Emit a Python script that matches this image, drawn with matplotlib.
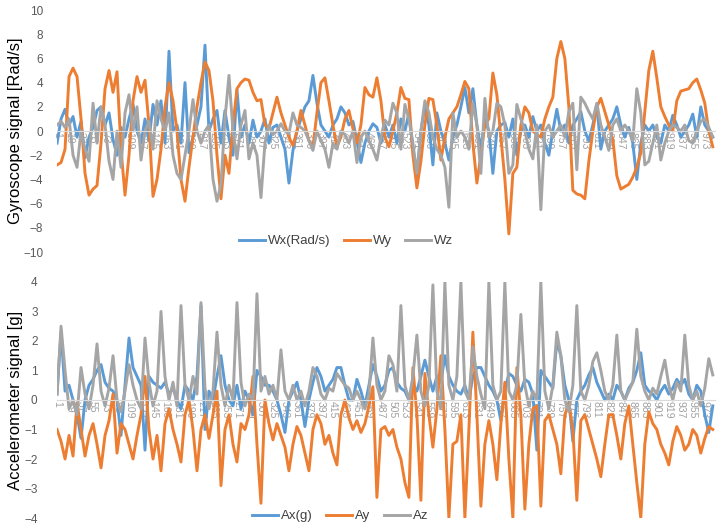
import numpy as np
import matplotlib
matplotlib.use("Agg")
import matplotlib.pyplot as plt

plt.rcParams['font.family'] = ['Liberation Sans', 'DejaVu Sans']

# gyroscope signals, one value every 6 samples
wx = [-1.0, 1.0, 1.8, 0.5, 1.2, -0.5, 0.8, -2.2, -0.5, 0.3,
      1.7, 2.0, 0.5, 1.5, -0.7, -2.0, 0.3, -0.5, 1.0, 2.2,
      0.0, -1.0, 1.0, -0.8, 2.2, 0.5, 2.5, -1.0, 6.6, 0.0,
      0.5, -1.0, 4.0, -1.8, -0.5, 0.5, 2.0, 7.1, 0.0, 1.0,
      1.7, -1.0, 1.7, -0.5, -2.0, 3.4, -0.5, 0.5, -1.0, 0.9,
      -0.5, 0.0, 1.0, -1.0, 0.3, 0.5, -0.5, -1.5, -4.3, -1.6,
      0.0, 1.0, 2.0, 2.5, 4.6, 2.3, 0.5, 0.0, -0.5, 0.5,
      1.0, 2.0, 1.5, 0.5, 0.8, -0.8, -2.6, -1.0, 0.0, 0.6,
      0.3, -1.0, 0.5, -0.5, 0.5, -1.0, 1.0, 0.0, 1.5, -1.5,
      -3.8, 0.0, 2.0, 0.5, -2.8, 1.5, 0.0, -1.0, -2.4, -0.5,
      0.5, 2.0, 3.6, 1.5, 3.5, 0.5, -1.5, 1.0, 0.0, -3.5,
      0.0, 0.5, 0.7, -0.5, 1.0, -2.0, 0.0, 0.5, -0.5, 1.2,
      0.0, 0.5, -1.0, -2.0, 0.0, 1.8, 0.0, 0.5, -1.0, 0.5,
      1.0, 1.6, 0.0, -0.8, 0.5, 2.2, -1.5, 0.0, 0.5, 1.0,
      2.0, 0.5, -0.5, 0.3, -1.0, -4.0, -1.0, 0.5, 0.0, 0.5,
      -0.5, -1.0, 0.5, 0.0, 1.3, 0.5, -0.5, 0.0, 0.5, 1.4,
      -0.5, 2.0, 0.5, 0.0, -0.5]
wy = [-2.8, -2.6, -1.5, 4.5, 5.2, 4.5, 1.0, -3.5, -5.3, -4.8,
      -4.5, -1.0, 3.5, 5.0, 3.2, 4.9, -1.5, -5.3, -2.0, 2.5,
      4.5, 3.2, 4.2, 0.5, -5.4, -4.0, -1.5, 2.0, 4.0, 2.5,
      0.0, -4.0, -5.8, -3.0, -0.5, 2.0, 4.0, 5.7, 5.0, 2.5,
      -2.0, -5.6, -2.0, -3.5, 0.5, 3.5, 4.0, 4.3, 4.2, 3.2,
      2.5, 2.6, 0.5, 0.2, 1.5, 2.8, 1.5, 0.5, -0.5, -1.2,
      0.0, 1.7, 0.5, -0.8, -1.3, 1.5, 4.0, 4.4, 2.5, 0.5,
      -1.3, -0.5, 1.0, 1.7, 0.2, -1.0, 0.5, 3.6, 3.0, 2.8,
      4.4, 2.5, -0.5, -1.3, 0.0, 1.5, 3.6, 2.7, 2.6, -2.0,
      -4.7, -2.5, 0.5, 2.7, 2.6, 0.5, -2.4, -0.5, 1.0, 1.5,
      2.0, 3.0, 4.1, 3.5, -1.0, -4.3, -2.0, 0.5, 1.0, 4.8,
      3.0, -0.5, -4.0, -8.5, -3.5, -3.0, 0.5, 2.0, 1.5, 0.0,
      -0.3, -0.5, 1.0, 2.0, 2.8, 6.0, 7.4, 6.0, 2.0, -4.9,
      -5.2, -5.3, -5.6, -2.5, 0.0, 2.0, 2.7, 1.6, 0.5, -0.7,
      -3.7, -4.8, -4.6, -4.4, -3.8, -3.0, -1.8, 1.6, 5.0, 6.6,
      4.4, 2.0, 1.2, 0.5, 0.0, 2.5, 3.3, 3.4, 3.5, 4.0,
      4.3, 3.4, 2.3, 0.0, -1.3]
wz = [0.5, 0.8, 0.3, 1.0, -2.0, -3.0, 0.0, -1.5, -2.5, 2.3,
      -1.0, 2.0, 0.5, -2.5, -4.0, 0.0, -3.0, 1.5, 3.0, 0.0,
      2.0, -2.4, 0.0, 0.8, -1.5, 2.5, 1.0, 0.0, 1.5, -2.0,
      -3.5, -4.0, -2.0, 0.0, 2.6, 0.0, -1.0, 0.0, 0.5, -4.0,
      -5.8, -4.4, 1.0, 4.6, 0.0, -2.3, 0.5, 1.7, -2.3, -1.0,
      -2.0, -5.5, -1.0, 0.5, -0.3, 0.0, 0.6, 0.0, -0.2, 1.5,
      0.5, 0.3, 0.0, -0.8, -1.6, 0.0, -0.8, -1.5, -3.0, -1.0,
      -1.5, 0.0, -0.3, -1.0, 0.0, -2.6, -0.5, 0.0, -0.8, -1.5,
      -2.4, -0.5, 0.9, 0.5, 2.3, 1.5, -1.5, 2.2, 1.0, -1.0,
      -3.5, 0.0, 2.5, 1.5, -0.5, -1.5, -2.0, -3.0, -6.3, 1.5,
      -0.5, 0.0, -0.5, -1.5, 2.3, 0.5, -3.5, 2.7, -0.5, 0.0,
      2.3, 2.0, 0.5, -3.5, -2.8, 2.2, 1.0, 0.0, -1.5, -2.3,
      0.5, -6.5, 0.0, 0.5, -0.5, 0.0, 0.5, -0.5, 1.6, 2.3,
      -3.2, 2.8, 2.3, 1.6, 1.0, 2.3, 0.5, -0.5, -1.6, 0.5,
      1.0, 0.0, 0.5, 0.0, -0.8, 3.5, 1.5, -2.8, -2.5, -1.0,
      0.5, -2.4, -1.0, 0.0, 0.5, 0.3, 0.0, 0.5, -0.8, -1.0,
      0.0, 0.8, 1.0, 0.3, -0.5]

# accelerometer signals
ax_g = [0.2, 2.3, 0.3, 0.5, 0.0, -0.5, -1.3, 0.0, 0.5, 0.7,
        1.0, 1.2, 0.6, 0.4, 0.3, 0.0, -1.2, 0.5, 2.1, 1.1,
        0.8, 0.5, -1.7, 0.8, 0.6, 0.5, 0.4, 0.6, 0.2, 0.4,
        0.0, -0.3, 0.5, 0.3, 0.0, 0.8, 3.2, -1.0, 0.3, 0.0,
        0.8, 1.5, 0.5, 0.0, -0.2, 0.5, -0.3, 0.3, 0.0, -0.5,
        1.0, 0.8, 0.5, 0.5, 0.3, 0.0, -0.5, -1.1, 0.0, 0.3,
        0.6, 0.0, -0.9, 0.0, 0.6, 1.1, 0.8, 0.3, 0.5, 0.7,
        1.1, 1.1, 0.5, 0.0, 0.0, 0.7, 0.3, -0.2, 0.5, 1.2,
        0.8, 0.3, 0.5, 1.0, 1.1, 0.6, 0.4, 0.3, 0.0, 0.5,
        0.3, 0.8, 1.35, 0.8, 0.3, 0.8, 0.6, 1.5, 0.8, 0.5,
        0.3, 0.2, 0.5, 0.0, 0.8, 1.1, 1.1, 0.8, 0.5, 0.3,
        0.0, -0.7, 0.3, 0.9, 0.8, 0.5, 0.3, 0.7, 0.6, 0.2,
        -1.7, 1.0, 0.8, 0.6, 0.4, 2.0, 1.5, 0.5, 0.0, -1.4,
        0.0, 0.3, 0.5, 0.85, 1.1, 0.6, 0.3, 0.0, 0.2, 0.0,
        0.5, 0.3, 0.0, 0.4, 0.6, 1.0, 1.6, 0.5, 0.3, 0.2,
        0.0, 0.3, 0.5, 0.2, 0.4, 0.7, 0.5, 0.7, 0.2, 0.0,
        0.5, 0.3, -0.5, -1.1, -0.2]
ay = [-1.0, -1.4, -2.0, -1.2, -1.9, -0.1, -1.0, -1.9, -1.2, -0.8,
      -1.5, -2.3, -1.2, -0.7, 0.2, -1.8, -0.8, -1.0, -1.5, -2.0,
      -1.2, -0.5, 0.8, -1.0, -2.0, -1.2, -2.4, -0.8, -0.3, -1.0,
      -1.5, -2.1, -0.5, 0.0, -1.0, -2.4, -1.0, -0.5, -1.3, -0.5,
      0.3, -2.9, -1.0, -0.5, -1.5, -2.1, -0.8, -1.0, -0.5, 0.8,
      -1.5, -3.5, 0.0, -0.8, -1.35, -0.8, -1.2, -1.6, -2.4, -1.5,
      -0.9, -1.2, -1.8, -2.4, -1.0, -0.5, -0.8, -1.5, -1.2, -1.8,
      -2.2, -0.5, 0.0, -0.6, -1.0, -0.7, -1.1, -0.8, -0.2, 0.45,
      -3.3, -1.0, -0.9, -1.2, -1.0, -1.6, -2.0, -2.8, -3.3, 1.1,
      -0.5, -3.4, 0.9, -0.5, -1.6, -0.3, 1.5, -1.0, -4.0, -1.5,
      -1.4, -0.5, -4.0, -1.0, 2.3, -0.5, -3.6, -1.5, -0.7, -1.5,
      -2.7, -0.8, 0.6, -2.0, -4.0, 1.1, -0.5, -3.7, -1.5, -0.3,
      -0.2, -3.6, -0.7, -0.5, -1.0, -1.5, -2.5, -0.5, -0.1, -1.0,
      -3.4, -0.7, -0.5, -1.0, -1.5, -2.0, -2.6, -1.5, -0.5, -0.5,
      -1.2, -2.0, -0.8, -0.2, -1.5, -2.8, -4.0, -1.5, -0.4, -0.8,
      -1.0, -1.5, -1.8, -2.2, -1.4, -0.9, -1.2, -1.7, -1.5, -1.0,
      -1.2, -1.8, -1.3, -0.9, -1.0]
az = [0.2, 2.5, 1.0, -0.3, 0.0, -0.5, 1.1, 0.2, -0.3, 0.5,
      1.9, 0.3, -0.2, 0.4, 1.5, 0.0, -0.4, 0.3, 1.2, 0.5,
      0.0, -0.3, 2.1, 0.6, -0.2, 0.3, 3.0, 0.8, 0.0, 0.6,
      -0.2, 3.2, 0.5, 0.0, 0.8, 0.2, 3.3, 0.4, -0.3, 0.3,
      2.3, 0.5, -0.2, 0.5, 0.0, 3.3, 0.6, -0.2, 0.2, 0.0,
      3.6, 0.3, 0.8, 0.2, 0.5, 0.0, 1.7, 0.3, 0.0, 0.5,
      0.0, 0.3, -0.2, 0.3, 1.1, 0.8, 0.2, 0.0, 0.4, 0.3,
      0.9, 0.7, 0.5, 0.4, 0.0, 0.3, 0.0, -0.3, 0.2, 2.1,
      0.5, 0.0, 0.3, 1.5, 1.2, 0.3, 3.2, 0.5, 0.0, 0.8,
      2.2, 0.3, -0.2, 0.5, 3.9, 0.3, -0.3, 4.0, 0.5, 0.0,
      0.8, 4.0, 0.3, 0.0, 1.8, 0.8, 0.2, -0.3, 4.0, 0.5,
      0.0, 0.3, 4.0, 0.3, 0.0, 0.5, 2.9, 0.5, -0.2, 0.3,
      0.0, 4.0, 0.3, -0.3, 0.5, 2.3, 1.5, 0.0, -0.4, 0.5,
      3.2, 0.3, 0.0, 0.5, 1.3, 1.6, 1.0, 0.3, 0.0, 0.5,
      2.2, 0.3, 0.0, 0.3, 0.6, 2.4, 0.8, 0.3, 0.0, 0.4,
      0.2, 0.8, 1.35, 0.5, 0.0, 0.6, 0.3, 2.2, 0.5, 0.0,
      0.3, -0.2, 0.4, 1.4, 0.85]

samples = [1 + 6 * k for k in range(len(wx))]   # sample number of each value
tick_step = 3                                     # label every 18 samples

blue, orange, grey = '#5B9BD5', '#ED7D31', '#A5A5A5'
lw = 2.1

fig = plt.figure(figsize=(7.22, 5.30), dpi=100)
ax1 = fig.add_axes([0.079, 0.5245, 0.911, 0.4565])
ax2 = fig.add_axes([0.079, 0.0226, 0.911, 0.4454])

def style(ax, ylo, yhi, ystep, ylabel, ypad):
    x = np.arange(len(samples))
    ax.set_xlim(0, len(samples) - 0.5)
    ax.set_ylim(ylo, yhi)
    ax.set_yticks(np.arange(ylo, yhi + 0.1, ystep))
    for s in ['top', 'right', 'left']:
        ax.spines[s].set_visible(False)
    ax.spines['bottom'].set_position(('data', 0))
    ax.spines['bottom'].set_color('#D9D9D9')
    ax.spines['bottom'].set_linewidth(0.8)
    ax.set_xticks(x[::tick_step])
    ax.set_xticklabels([str(s) for s in samples[::tick_step]], rotation=-90,
                       fontsize=7.5, color='#A0A0A0')
    ax.tick_params(axis='x', length=0, pad=1)
    ax.tick_params(axis='y', length=0, pad=ypad, labelsize=8.5, labelcolor='#595959')
    ax.set_ylabel(ylabel, fontsize=12, color='#000000')
    ax.yaxis.set_label_coords(-0.052, 0.5)
    return x

x = style(ax1, -10, 10, 2, 'Gyroscope signal [Rad/s]', 10)
ax1.plot(x, wx, color=blue, lw=lw, label='Wx(Rad/s)')
ax1.plot(x, wy, color=orange, lw=lw, label='Wy')
ax1.plot(x, wz, color=grey, lw=lw, label='Wz')
fig.legend(*ax1.get_legend_handles_labels(), loc='center', ncol=3,
           bbox_to_anchor=(0.479, 0.545), frameon=False, fontsize=9.5,
           handlelength=2.0, handletextpad=0.2, columnspacing=1.0,
           labelcolor='#404040')

x = style(ax2, -4, 4, 1, 'Accelerometer signal [g]', 14)
ax2.plot(x, ax_g, color=blue, lw=lw, label='Ax(g)')
ax2.plot(x, ay, color=orange, lw=lw, label='Ay')
ax2.plot(x, az, color=grey, lw=lw, label='Az')
fig.legend(*ax2.get_legend_handles_labels(), loc='center', ncol=3,
           bbox_to_anchor=(0.471, 0.026), frameon=False, fontsize=9.5,
           handlelength=2.0, handletextpad=0.2, columnspacing=1.0,
           labelcolor='#404040')

fig.savefig('out.png', dpi=100)
